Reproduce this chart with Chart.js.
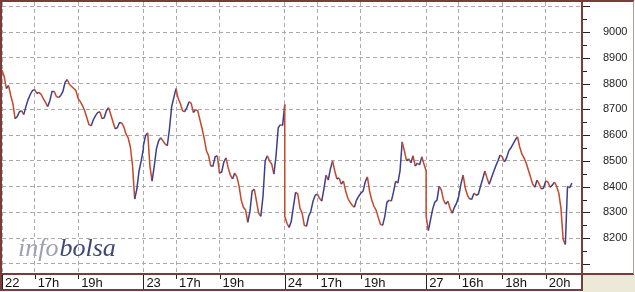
<!DOCTYPE html>
<html>
<head>
<meta charset="utf-8">
<script src="https://cdn.jsdelivr.net/npm/chart.js@4.4.1/dist/chart.umd.min.js"></script>
<style>
  html, body { margin: 0; padding: 0; background: #fff; }
  #wrap { width: 635px; height: 292px; }
</style>
</head>
<body>
<div id="wrap"><canvas id="chart" width="635" height="292"></canvas></div>
<script>
// Session layout: hours counted from the open of the first session (22 = 15:30)
const dayStarts = [0, 6.5, 13, 19.5];
const barStep = 0.1; // one bar every 6 minutes
const tickPos = [0, 1.5, 3.5, 6.5, 8, 10, 13, 14.5, 16.5, 19.5, 21, 23, 25];
const tickLabels = ["22", "17h", "19h", "23", "17h", "19h", "24", "17h", "19h", "27", "16h", "18h", "20h"];
const yTicks = [8100, 8150, 8200, 8250, 8300, 8350, 8400, 8450, 8500, 8550, 8600, 8650, 8700,
  8750, 8800, 8850, 8900, 8950, 9000, 9050, 9100];
const yTickLabels = [8200, 8300, 8400, 8500, 8600, 8700, 8800, 8900, 9000];

// Prices, one per bar
const day22 = [8852, 8828, 8781, 8793, 8754, 8723, 8664, 8672, 8691, 8695, 8680, 8711, 8738, 8758,
  8773, 8777, 8762, 8766, 8758, 8742, 8727, 8711, 8734, 8770, 8770, 8750, 8746, 8754, 8770, 8805,
  8816, 8797, 8789, 8781, 8773, 8742, 8730, 8715, 8695, 8668, 8641, 8637, 8660, 8676, 8688, 8691,
  8664, 8668, 8695, 8707, 8680, 8652, 8625, 8629, 8648, 8648, 8633, 8605, 8590, 8555, 8484, 8352,
  8391, 8461, 8500, 8547];
const day23 = [8559, 8598, 8609, 8480, 8422, 8480, 8547, 8578, 8590, 8578, 8566, 8559, 8625, 8711,
  8746, 8781, 8742, 8723, 8695, 8691, 8707, 8730, 8723, 8688, 8699, 8695, 8660, 8625, 8586, 8539,
  8520, 8480, 8480, 8516, 8520, 8453, 8457, 8496, 8512, 8473, 8445, 8430, 8453, 8438, 8402, 8348,
  8320, 8309, 8262, 8305, 8383, 8391, 8344, 8297, 8285, 8363, 8500, 8520, 8500, 8488, 8449, 8520,
  8629, 8641, 8637, 8719];
const day24 = [8285, 8258, 8242, 8266, 8324, 8379, 8371, 8316, 8297, 8250, 8246, 8285, 8305, 8344,
  8367, 8371, 8355, 8344, 8391, 8445, 8426, 8469, 8500, 8461, 8430, 8434, 8410, 8422, 8383, 8355,
  8340, 8328, 8320, 8348, 8363, 8375, 8383, 8418, 8438, 8383, 8348, 8324, 8309, 8281, 8254, 8250,
  8285, 8340, 8348, 8344, 8379, 8422, 8414, 8461, 8574, 8539, 8500, 8508, 8492, 8520, 8480, 8492,
  8484, 8516, 8488, 8461];
const day27 = [8285, 8230, 8270, 8313, 8340, 8348, 8402, 8387, 8348, 8332, 8344, 8316, 8297, 8320,
  8336, 8363, 8410, 8445, 8395, 8367, 8352, 8352, 8375, 8367, 8371, 8402, 8430, 8461, 8434, 8410,
  8434, 8457, 8480, 8500, 8523, 8516, 8496, 8512, 8539, 8551, 8566, 8582, 8594, 8555, 8527, 8512,
  8492, 8465, 8438, 8410, 8398, 8426, 8410, 8391, 8395, 8422, 8418, 8398, 8406, 8418, 8402, 8375,
  8316, 8195, 8176, 8402, 8395, 8414];

const UP = "#3b3f8f";
const DOWN = "#c8462a";
const FRAME = "#7a3b3b";

// Build the point list for the single price series
const points = [];
[day22, day23, day24, day27].forEach(function (day, d) {
  day.forEach(function (v, i) {
    points.push({ x: dayStarts[d] + i * barStep, y: v });
  });
});

// Frame, tick marks and the watermark are drawn around the chart
const framePlugin = {
  id: "frame",
  beforeDraw(chart) {
    const c = chart.ctx;
    c.save();
    c.fillStyle = "#ffffff";
    c.fillRect(0, 0, chart.width, chart.height);
    c.fillStyle = "#ece9d8";
    c.fillRect(583, 275, 52, 17);
    c.restore();
  },
  beforeDatasetsDraw(chart) {
    const c = chart.ctx;
    c.save();
    c.textBaseline = "alphabetic";
    c.font = "italic 26px 'Liberation Serif'";
    c.fillStyle = "#9ea1b6";
    c.fillText("info", 18, 256);
    const w = c.measureText("info").width;
    c.fillStyle = "#3d4970";
    c.fillText("bolsa", 18 + w + 1, 256);
    c.restore();
  },
  afterDraw(chart) {
    const c = chart.ctx;
    const xs = chart.scales.x;
    const ys = chart.scales.y;
    const area = chart.chartArea;
    c.save();
    // x tick marks in the label strip
    c.strokeStyle = "#222";
    c.lineWidth = 1;
    xs.ticks.forEach(function (t, i) {
      const px = Math.round(xs.getPixelForValue(t.value)) + 0.5;
      const isDay = tickLabels[i].indexOf("h") < 0;
      c.beginPath();
      c.moveTo(px, 275);
      c.lineTo(px, isDay ? 290 : 279);
      c.stroke();
    });
    // y tick marks on the right panel
    ys.ticks.forEach(function (t) {
      const py = Math.round(ys.getPixelForValue(t.value)) + 0.5;
      const major = t.value % 100 === 0;
      c.beginPath();
      c.moveTo(583, py);
      c.lineTo(major ? 590 : 587, py);
      c.stroke();
    });
    // borders
    c.strokeStyle = FRAME;
    c.lineWidth = 2;
    c.strokeRect(1, 1, area.right - 1, area.bottom);
    c.strokeRect(1, area.bottom + 1, area.right - 1, 16);
    c.beginPath();
    c.moveTo(area.right, 1);
    c.lineTo(634, 1);
    c.moveTo(area.right, area.bottom + 1);
    c.lineTo(634, area.bottom + 1);
    c.stroke();
    c.strokeStyle = "#b09c8c";
    c.lineWidth = 1;
    c.beginPath();
    c.moveTo(633.5, 1);
    c.lineTo(633.5, area.bottom + 1);
    c.stroke();
    c.restore();
  },
};

const chart = new Chart(document.getElementById("chart").getContext("2d"), {
  type: "line",
  data: {
    datasets: [
      {
        label: "Cotización",
        data: points,
        borderWidth: 1.5,
        pointRadius: 0,
        tension: 0,
        borderColor: DOWN,
        segment: {
          borderColor: function (ctx) {
            return ctx.p1.parsed.y >= ctx.p0.parsed.y ? UP : DOWN;
          },
        },
      },
    ],
  },
  options: {
    responsive: false,
    animation: false,
    layout: { padding: { left: 2, top: 2, right: 0, bottom: 0 } },
    plugins: { legend: { display: false }, tooltip: { enabled: false } },
    scales: {
      x: {
        type: "linear",
        bounds: "data",
        min: 0,
        max: 580 / 21.75,
        afterBuildTicks: function (scale) {
          scale.ticks = tickPos.map(function (v) { return { value: v }; });
        },
        afterFit: function (scale) {
          scale.height = 19;
          scale.paddingLeft = 0;
          scale.paddingRight = 0;
        },
        ticks: {
          autoSkip: false,
          maxRotation: 0,
          align: "start",
          labelOffset: 3,
          padding: 3,
          color: "#111",
          font: { family: "'Liberation Sans'", size: 13 },
          callback: function (value, index) { return tickLabels[index]; },
        },
        grid: { color: "#ababab", lineWidth: 1, drawTicks: false },
        border: { display: false, dash: [4, 3] },
      },
      y: {
        type: "linear",
        position: "right",
        bounds: "data",
        min: 8065,
        max: 9117,
        afterBuildTicks: function (scale) {
          scale.ticks = yTicks.map(function (v) { return { value: v }; });
        },
        afterFit: function (scale) {
          scale.width = 53;
          scale.paddingTop = 0;
          scale.paddingBottom = 0;
        },
        ticks: {
          autoSkip: false,
          padding: 21,
          color: "#222",
          font: { family: "'Liberation Sans'", size: 11 },
          callback: function (value) {
            return yTickLabels.indexOf(value) >= 0 ? String(value) : "";
          },
        },
        grid: {
          drawTicks: false,
          lineWidth: 1,
          color: function (ctx) {
            return ctx.tick && ctx.tick.value % 100 === 0 ? "#ababab" : "rgba(0,0,0,0)";
          },
        },
        border: { display: false, dash: [4, 3] },
      },
    },
  },
  plugins: [framePlugin],
});
</script>
</body>
</html>
